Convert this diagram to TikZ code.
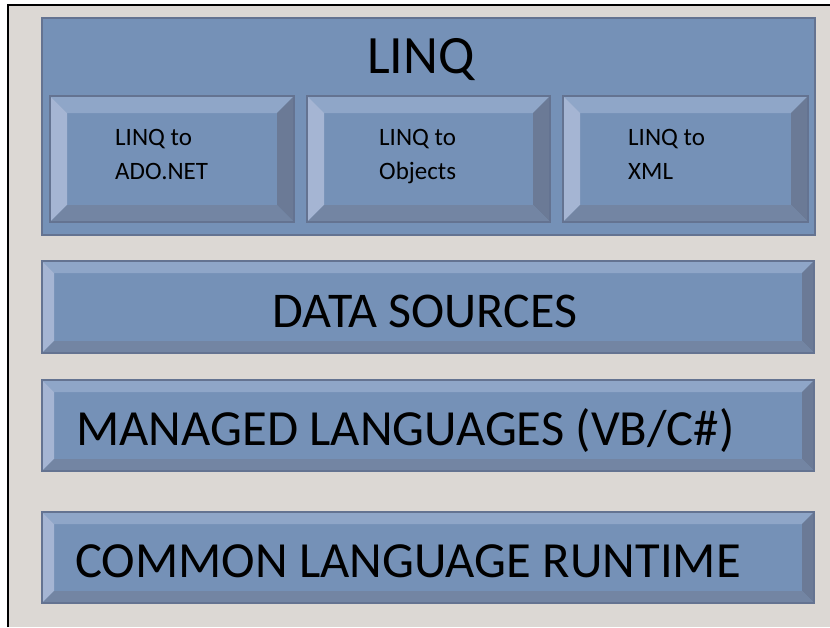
\documentclass[tikz,border=0pt]{standalone}
\usepackage{fontspec}
\setmainfont{Carlito}
\definecolor{bgc}{HTML}{DCD8D4}
\definecolor{facec}{HTML}{7591B7}
\definecolor{topc}{HTML}{8FA6C8}
\definecolor{leftc}{HTML}{A5B5D3}
\definecolor{rightc}{HTML}{6B7A96}
\definecolor{botc}{HTML}{7385A3}
\definecolor{linec}{HTML}{647391}
\newcommand\bevelbox[5]{%
  \fill[facec] (#1,#2) rectangle (#3,#4);
  \fill[topc] (#1,#2) -- (#3,#2) -- ({#3-#5},{#2+#5}) -- ({#1+#5},{#2+#5}) -- cycle;
  \fill[leftc] (#1,#2) -- ({#1+#5},{#2+#5}) -- ({#1+#5},{#4-#5}) -- (#1,#4) -- cycle;
  \fill[rightc] (#3,#2) -- (#3,#4) -- ({#3-#5},{#4-#5}) -- ({#3-#5},{#2+#5}) -- cycle;
  \fill[botc] (#1,#4) -- (#3,#4) -- ({#3-#5},{#4-#5}) -- ({#1+#5},{#4-#5}) -- cycle;
  \draw[linec, line width=1.5pt] (#1,#2) rectangle (#3,#4);
}
\tikzset{
  big/.style={inner sep=0pt, font=\fontsize{50.6}{60}\selectfont, text=black},
  small/.style={inner sep=0pt, font=\fontsize{25}{34}\selectfont, text=black, align=left},
}
\begin{document}
\begin{tikzpicture}[x=1pt,y=-1pt]
\useasboundingbox (0,0) rectangle (830,627);
\fill[white] (0,0) rectangle (830,627);
\fill[bgc] (8,5) rectangle (830,627);
\draw[black, line width=1.2pt] (8,627) -- (8,5) -- (830,5);
% LINQ outer box
\fill[facec] (42,18) rectangle (815,235);
\draw[linec, line width=1.5pt] (42,18) rectangle (815,235);
\node[big, font=\fontsize{54}{60}\selectfont, anchor=base] (linq) at (421,73) {LINQ};
\bevelbox{50}{96}{294}{222}{17}
\bevelbox{307}{96}{550}{222}{17}
\bevelbox{563}{96}{808}{222}{17}
\node[small, anchor=base west] (ado1) at (115,145) {LINQ to};
\node[small, anchor=base west] (ado2) at (115,179) {ADO.NET};
\node[small, anchor=base west] (obj1) at (379,145) {LINQ to};
\node[small, anchor=base west] (obj2) at (379,179) {Objects};
\node[small, anchor=base west] (xml1) at (628,145) {LINQ to};
\node[small, anchor=base west] (xml2) at (628,179) {XML};
\bevelbox{42}{261}{814}{353}{12}
\node[big, font=\fontsize{50}{60}\selectfont, anchor=base] (ds) at (425,327) {DATA SOURCES};
\bevelbox{42}{380}{814}{471}{12}
\node[big, anchor=base west] (ml) at (76,445) {MANAGED LANGUAGES (VB/C\#)};
\bevelbox{42}{512}{814}{603}{12}
\node[big, anchor=base west] (clr) at (75,577) {COMMON LANGUAGE RUNTIME};
\end{tikzpicture}
\end{document}
